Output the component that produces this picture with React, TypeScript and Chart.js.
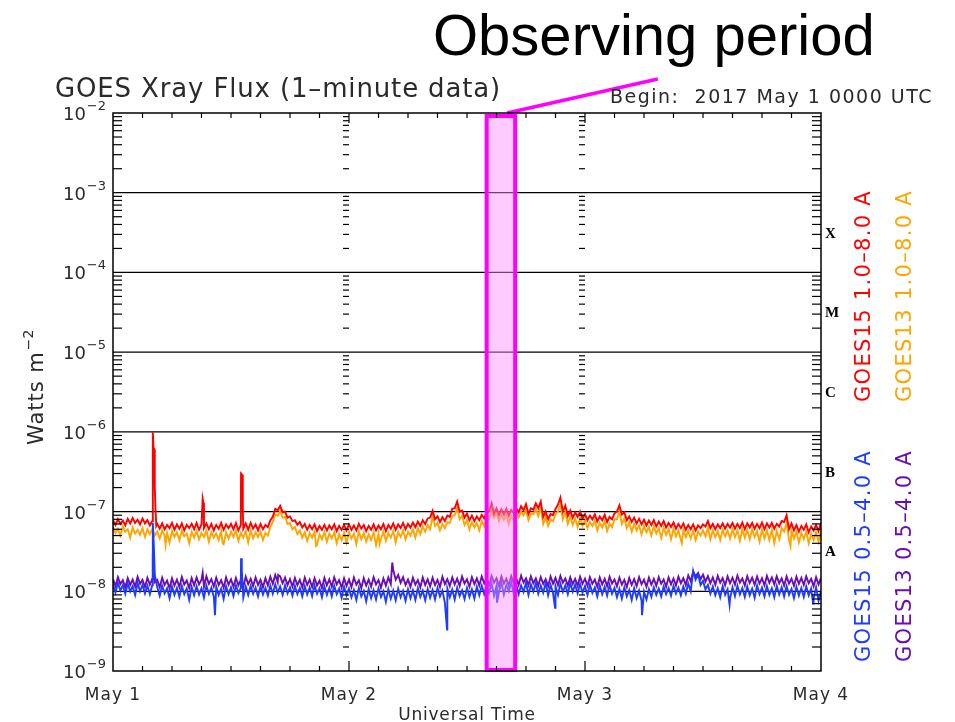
import React, { useEffect, useRef } from "react";
import { Chart, registerables } from "chart.js";

Chart.register(...registerables);

// ---------------- data ----------------
// time axis: hours since 2017 May 1 00:00 UTC.
// "hi" = upper envelope of the 1-minute noise, sampled every 30 min (h = i*0.5)
// "lo" = lower envelope, sampled every 30 min offset by 15 min (h = i*0.5 + 0.25)
const STEP_HOURS = 0.5;
const UNIT = 1e-9; // values below are in units of 1e-9 W m^-2
const DAY_LABELS = ["May 1", "May 2", "May 3", "May 4"];
const DECADE_EXPONENTS = [-2, -3, -4, -5, -6, -7, -8, -9];
const CLASS_LABELS = ["X", "M", "C", "B", "A"];
const CLASS_LOG_POSITIONS = [-3.5, -4.5, -5.5, -6.5, -7.5];
const OBSERVING_START_H = 38.0;
const OBSERVING_END_H = 40.9;

// GOES15 1.0-8.0 A (red)
const goes15LongHi = [
  78, 80, 77, 81, 83, 79, 82, 78, 76,
  70, 71, 68, 72, 69, 71, 68, 70, 72, 69, 71, 70, 68, 72, 69, 70, 72, 68, 71, 72, 69, 70, 68,
  78, 108, 118, 100, 87, 78, 74,
  70, 68, 69, 66, 68, 67, 69, 66, 68,
  69, 67, 70, 68, 66, 69, 67, 70, 68, 71, 69, 72, 70, 73, 75, 78,
  82, 102, 87, 85, 89, 108, 134, 103, 94, 89, 87, 91, 98, 127, 110, 106, 108, 105, 112, 117,
  124, 110, 127, 134, 100, 93, 108, 150, 119, 103, 98, 100,
  93, 89, 92, 87, 91, 86, 95, 120, 98, 87, 84, 81, 79, 77, 78, 75, 76, 72, 73, 70,
  71, 68, 69, 67, 69, 76, 70, 69, 71, 70, 72, 70, 73, 71, 72, 70, 73, 71, 72, 70,
  76, 90, 71, 68, 66, 69, 65, 68, 72,
];
const goes15LongLo = [
  68, 70, 67, 71, 72, 69, 71, 67, 200,
  61, 60, 62, 59, 61, 58, 62, 60, 59, 62, 60, 58, 61, 59, 62, 60, 58, 61, 59, 61, 58, 60, 64,
  86, 104, 98, 84, 76, 68, 63,
  59, 60, 57, 59, 58, 60, 57, 59, 58,
  59, 58, 61, 57, 59, 58, 60, 57, 61, 59, 62, 60, 63, 64, 66, 70,
  84, 80, 74, 76, 86, 110, 100, 84, 78, 76, 78, 82, 100, 94, 90, 92, 89, 95, 98, 104,
  93, 106, 110, 86, 80, 90, 122, 100, 88, 84, 86, 82,
  78, 80, 75, 78, 74, 80, 100, 92, 78, 74, 71, 69, 67, 68, 65, 66, 63, 64, 61, 62,
  59, 60, 58, 62, 65, 62, 60, 62, 61, 63, 61, 62, 60, 63, 61, 62, 60, 63, 61, 65,
  74, 60, 58, 56, 59, 55, 58, 57,
];
const goes15LongSpikes: [number, number][] = [
  [4.05, 990], [4.12, 640], [4.2, 600], [4.32, 110], [4.4, 66],
  [9.12, 145], [9.2, 128],
  [13.02, 300], [13.12, 290], [13.2, 110],
];

// GOES13 1.0-8.0 A (orange)
const goes13LongHi = [
  64, 61, 65, 60, 63, 59, 62, 60, 60,
  56, 58, 54, 57, 55, 58, 53, 56, 57, 54, 58, 55, 53, 57, 55, 56, 58, 54, 57, 58, 55, 56, 54,
  64, 92, 102, 86, 72, 64, 58,
  55, 54, 56, 52, 55, 53, 55, 52, 54,
  55, 53, 56, 54, 52, 55, 53, 56, 54, 57, 55, 58, 56, 60, 62, 65,
  68, 86, 72, 70, 74, 88, 112, 88, 78, 74, 72, 76, 82, 105, 95, 90, 92, 88, 96, 100,
  105, 94, 108, 114, 86, 80, 92, 125, 100, 86, 82, 84,
  78, 74, 77, 72, 76, 71, 80, 100, 82, 73, 70, 67, 66, 64, 65, 62, 63, 60, 61, 58,
  59, 57, 58, 56, 58, 63, 58, 57, 59, 58, 60, 58, 60, 59, 60, 57, 60, 58, 59, 57,
  62, 72, 58, 56, 54, 56, 53, 55, 58,
];
const goes13LongLo = [
  54, 50, 56, 47, 53, 51, 48, 52, 50,
  46, 50, 41, 48, 44, 49, 40, 47, 45, 48, 42, 47, 44, 39, 46, 48, 43, 47, 41, 46, 48, 44, 50,
  74, 88, 84, 70, 60, 52, 47,
  43, 47, 38, 45, 42, 46, 40, 44, 41,
  46, 39, 45, 42, 44, 38, 45, 43, 47, 41, 48, 45, 50, 47, 52, 56,
  60, 66, 58, 62, 72, 90, 80, 68, 60, 63, 58, 66, 80, 84, 76, 79, 70, 78, 84, 90,
  78, 92, 88, 70, 66, 76, 100, 80, 70, 68, 64, 66,
  62, 66, 58, 63, 57, 64, 80, 70, 62, 56, 58, 52, 55, 50, 53, 47, 51, 45, 49, 44,
  48, 46, 44, 50, 49, 45, 48, 44, 49, 46, 48, 43, 47, 45, 48, 42, 46, 44, 40, 45,
  56, 44, 46, 41, 45, 40, 44, 42,
];
const goes13LongDips: [number, number][] = [
  [5.35, 38], [11.15, 40], [20.65, 37], [27.1, 39], [57.85, 40], [68.9, 37],
];

// GOES15 0.5-4.0 A (blue)
const goes15ShortHi = [
  12.2, 12.8, 11.9, 12.5, 11.6, 12.7, 12.0, 11.8, 12.0,
  11.2, 11.8, 10.9, 11.5, 11.0, 11.7, 10.8, 11.4, 11.6, 10.9, 11.8, 11.1, 11.5, 10.8, 11.6, 11.2, 11.9, 11.0, 11.5, 11.7, 11.1, 11.6, 11.0,
  11.8, 12.2, 11.5, 11.9, 11.2, 11.7, 11.0,
  11.6, 11.2, 11.8, 10.9, 11.5, 11.1, 11.7, 10.8, 11.4,
  10.8, 10.4, 11.0, 10.1, 10.7, 10.3, 10.9, 10.0, 10.6, 10.2, 10.8, 10.1, 10.6, 10.3, 10.9, 10.2,
  10.7, 10.4, 11.0, 10.2, 10.8, 10.5, 11.1, 10.3, 11.0, 10.6, 11.4, 11.8, 12.2, 12.6, 11.8, 12.8, 12.0, 13.0, 12.3, 11.9,
  12.9, 12.2, 12.6, 11.8, 12.7, 12.0, 11.6, 12.5, 11.9, 12.8, 12.1, 12.4,
  11.6, 12.1, 11.2, 11.8, 11.4, 12.0, 11.0, 10.7, 11.2, 10.4, 10.9, 10.2, 9.9, 10.6, 11.2, 10.8, 11.5, 11.0, 11.7, 11.1,
  11.5, 12.5, 18.0, 16.5, 13.5, 12.0, 11.5, 10.9, 11.6, 10.6, 11.2, 11.7, 11.0, 11.5, 10.8, 11.8, 11.1, 11.6, 10.9, 11.7,
  11.2, 11.6, 10.7, 11.4, 11.0, 11.5, 10.8, 11.2, 10.2,
];
const goes15ShortLo = [
  9.6, 10.2, 9.3, 9.9, 9.0, 10.0, 9.4, 9.2, 16,
  8.8, 9.4, 8.2, 9.0, 8.5, 9.2, 7.8, 8.9, 9.1, 8.3, 9.3, 8.6, 9.0, 8.0, 9.2, 8.7, 9.5, 8.4, 9.0, 9.3, 8.6, 9.1, 8.8,
  9.3, 9.6, 9.0, 9.4, 8.8, 9.2, 8.6,
  9.1, 8.7, 9.3, 8.4, 9.0, 8.6, 9.2, 8.3, 8.9,
  8.4, 7.8, 8.6, 7.5, 8.2, 7.9, 8.5, 7.4, 8.1, 7.7, 8.4, 7.6, 8.2, 7.8, 8.5, 7.7,
  8.3, 7.9, 8.6, 7.2, 8.4, 7.9, 8.7, 8.0, 8.5, 8.1, 8.9, 9.2, 9.6, 8.8, 9.8, 9.1, 10.0, 9.4, 9.2, 9.8,
  9.0, 9.9, 9.3, 9.6, 8.9, 9.5, 9.0, 9.8, 9.2, 9.9, 9.4, 9.6,
  9.0, 9.5, 8.6, 9.2, 8.8, 9.3, 8.4, 8.1, 8.6, 7.8, 8.2, 7.6, 7.9, 8.5, 9.0, 8.6, 9.2, 8.8, 9.4, 8.9,
  9.3, 10.0, 14.0, 12.0, 10.6, 9.3, 8.9, 8.4, 9.0, 8.1, 8.7, 9.1, 8.5, 8.9, 8.3, 9.2, 8.6, 9.0, 8.4, 9.1,
  8.6, 9.0, 8.2, 8.8, 8.5, 8.9, 8.1, 7.6,
];
const goes15ShortSpikes: [number, number][] = [
  [4.05, 72], [4.15, 38],
  [10.37, 5.0],
  [13.02, 26], [13.1, 18], [13.18, 12],
  [33.97, 3.3], [39.05, 7.2], [44.95, 6.2], [53.8, 5.0], [62.7, 6.8], [71.2, 7.0],
];

// GOES13 0.5-4.0 A (purple)
const goes13ShortHi = [
  14.2, 15.0, 13.8, 14.6, 14.0, 15.2, 13.9, 14.7, 14.4,
  13.9, 14.8, 13.6, 14.5, 14.0, 15.1, 13.7, 14.6, 14.9, 14.0, 15.4, 14.2, 14.8, 13.8, 14.9, 14.1, 14.7, 14.0, 15.2, 14.3, 14.9, 13.9, 14.6,
  15.2, 16.0, 15.4, 14.8, 14.2, 14.7, 13.9,
  14.8, 14.0, 14.6, 13.6, 14.7, 14.1, 15.0, 13.8, 14.5,
  14.0, 14.9, 13.7, 14.6, 14.0, 15.0, 13.8, 14.5, 14.9, 18.5, 16.0, 15.0, 14.0, 14.8, 13.8, 14.9,
  14.1, 14.8, 13.9, 15.2, 14.2, 14.9, 14.4, 15.3, 14.1, 15.0, 14.5, 15.4, 14.7, 15.6, 14.6, 15.3, 14.4, 15.5, 14.8, 15.7,
  14.6, 15.4, 14.5, 15.1, 14.2, 15.3, 14.7, 15.6, 14.5, 15.0, 14.3, 15.2,
  14.4, 15.1, 14.0, 14.9, 14.3, 15.2, 14.1, 14.8, 13.9, 14.7, 14.2, 15.0, 14.0, 14.8, 14.3, 15.1, 14.0, 14.9, 14.4, 15.3,
  14.6, 15.8, 17.5, 17.0, 16.2, 15.5, 14.9, 15.6, 14.6, 15.4, 14.8, 15.7, 14.5, 15.5, 14.8, 15.3, 14.6, 15.6, 14.9, 15.4,
  14.5, 15.3, 14.4, 15.2, 14.7, 15.4, 14.3, 15.0, 14.6,
];
const goes13ShortLo = [
  11.6, 12.3, 11.2, 12.0, 11.4, 12.4, 11.3, 12.1, 13.0,
  11.2, 12.0, 10.9, 11.8, 11.3, 12.2, 11.0, 11.9, 12.2, 11.4, 12.4, 11.5, 12.0, 11.1, 12.1, 11.4, 11.9, 11.3, 12.3, 11.6, 12.0, 11.2, 11.8,
  12.4, 13.0, 12.6, 12.0, 11.5, 11.9, 11.2,
  12.0, 11.3, 11.8, 11.0, 11.9, 11.4, 12.2, 11.1, 11.7,
  11.3, 12.1, 11.0, 11.8, 11.4, 12.2, 11.1, 11.8, 12.3, 14.0, 12.8, 12.0, 11.4, 12.1, 11.2, 12.0,
  11.5, 12.0, 11.3, 12.3, 11.6, 12.2, 11.7, 12.5, 11.4, 12.3, 11.8, 12.6, 11.9, 12.8, 11.7, 12.5, 11.8, 12.7, 12.0, 12.9,
  11.9, 12.6, 11.7, 12.4, 11.6, 12.5, 12.0, 12.8, 11.8, 12.3, 11.7, 12.4,
  11.7, 12.4, 11.4, 12.2, 11.6, 12.5, 11.5, 12.1, 11.3, 12.0, 11.6, 12.3, 11.4, 12.1, 11.7, 12.4, 11.4, 12.2, 11.8, 12.6,
  12.0, 13.4, 15.5, 14.2, 13.2, 12.6, 12.1, 12.8, 11.9, 12.6, 12.1, 12.9, 11.8, 12.7, 12.1, 12.5, 11.9, 12.8, 12.2, 12.6,
  11.8, 12.5, 11.7, 12.4, 12.0, 12.6, 11.6, 12.2,
];
const goes13ShortSpikes: [number, number][] = [
  [4.05, 30], [4.15, 18], [9.12, 17], [13.02, 15.5], [16.8, 16], [28.4, 23],
];

// ---------------- styling ----------------
const RED = "#ff0000";
const ORANGE = "#ffa500";
const BLUE = "#1e3cff";
const PURPLE = "#6a0cb4";
const MAGENTA = "#ff00ff";
const IDL_FONT = "'DejaVu Sans', sans-serif";
const TEXT_COLOR = "#2a2a2a";

function buildSeries(hi: number[], lo: number[], extra: [number, number][]) {
  const pts = hi.map((v, i) => ({ x: i * STEP_HOURS, y: v * UNIT }));
  lo.forEach((v, i) => pts.push({ x: i * STEP_HOURS + STEP_HOURS / 2, y: v * UNIT }));
  extra.forEach(([h, v]) => pts.push({ x: h, y: v * UNIT }));
  pts.sort((a, b) => a.x - b.x);
  return pts;
}

function drawText(
  ctx: CanvasRenderingContext2D,
  s: string,
  x: number,
  y: number,
  font: string,
  color: string,
  align: CanvasTextAlign = "left",
  spacing = "0px"
) {
  ctx.font = font;
  ctx.fillStyle = color;
  ctx.textAlign = align;
  ctx.textBaseline = "alphabetic";
  (ctx as any).letterSpacing = spacing;
  ctx.fillText(s, x, y);
  (ctx as any).letterSpacing = "0px";
}

function seg(ctx: CanvasRenderingContext2D, x1: number, y1: number, x2: number, y2: number) {
  ctx.beginPath();
  ctx.moveTo(x1, y1);
  ctx.lineTo(x2, y2);
  ctx.stroke();
}

const decorPlugin = {
  id: "goesDecor",
  beforeDatasetsDraw(chart: any) {
    const { ctx, chartArea: a, scales } = chart;
    const y = scales.y;
    ctx.save();
    ctx.strokeStyle = "#000";
    ctx.lineWidth = 1.3;
    for (let e = -3; e >= -8; e--) {
      const py = y.getPixelForValue(Math.pow(10, e));
      seg(ctx, a.left, py, a.right, py);
    }
    ctx.restore();
  },
  afterDatasetsDraw(chart: any) {
    const { ctx, chartArea: a, scales } = chart;
    const x = scales.x;
    const y = scales.y;
    ctx.save();

    // observing period box
    const bx1 = x.getPixelForValue(OBSERVING_START_H);
    const bx2 = x.getPixelForValue(OBSERVING_END_H);
    ctx.fillStyle = "rgba(255,140,255,0.45)";
    ctx.fillRect(bx1, a.top + 3, bx2 - bx1, a.bottom - a.top - 4);
    ctx.strokeStyle = MAGENTA;
    ctx.lineWidth = 4;
    ctx.strokeRect(bx1, a.top + 3, bx2 - bx1, a.bottom - a.top - 4);
    // connector line to caption
    ctx.lineWidth = 3.5;
    seg(ctx, bx2 - 8, a.top, x.getPixelForValue(55.4), a.top - 34);

    // frame
    ctx.strokeStyle = "#000";
    ctx.lineWidth = 1.5;
    ctx.strokeRect(a.left, a.top, a.right - a.left, a.bottom - a.top);

    // y minor ticks
    ctx.lineWidth = 1.2;
    const days = [24, 48];
    for (let e = -9; e <= -3; e++) {
      for (let k = 2; k <= 9; k++) {
        const py = y.getPixelForValue(k * Math.pow(10, e));
        seg(ctx, a.left, py, a.left + 9, py);
        seg(ctx, a.right - 9, py, a.right, py);
        days.forEach((d) => {
          const px = x.getPixelForValue(d);
          seg(ctx, px - 6, py, px, py);
        });
      }
    }
    // x ticks every 3 hours
    for (let h = 3; h < 72; h += 3) {
      const px = x.getPixelForValue(h);
      const len = h % 24 === 0 ? 10 : 5;
      seg(ctx, px, a.bottom, px, a.bottom - len);
      seg(ctx, px, a.top, px, a.top + len);
    }

    // y tick labels 10^n
    DECADE_EXPONENTS.forEach((e) => {
      const py = y.getPixelForValue(Math.pow(10, e));
      const expStr = "\u2212" + String(-e);
      ctx.font = `13px ${IDL_FONT}`;
      const we = ctx.measureText(expStr).width;
      drawText(ctx, expStr, 106, py - 3, `13px ${IDL_FONT}`, TEXT_COLOR, "right");
      drawText(ctx, "10", 106 - we - 1, py + 7, `18px ${IDL_FONT}`, TEXT_COLOR, "right");
    });

    // x tick labels
    DAY_LABELS.forEach((lab, i) => {
      const px = x.getPixelForValue(i * 24);
      drawText(ctx, lab, px, 700, `17px ${IDL_FONT}`, TEXT_COLOR, "center", "1px");
    });
    drawText(ctx, "Universal Time", (a.left + a.right) / 2, 720, `17px ${IDL_FONT}`, TEXT_COLOR, "center", "0.8px");

    // class labels
    CLASS_LABELS.forEach((c, i) => {
      const py = y.getPixelForValue(Math.pow(10, CLASS_LOG_POSITIONS[i]));
      drawText(ctx, c, a.right + 4, py + 5, `bold 15px 'Liberation Serif', serif`, "#000", "left");
    });

    // titles
    drawText(ctx, "GOES Xray Flux (1\u2013minute data)", 55, 97, `26px ${IDL_FONT}`, TEXT_COLOR, "left", "0.85px");
    drawText(ctx, "Begin:  2017 May 1 0000 UTC", 610, 103, `19px ${IDL_FONT}`, TEXT_COLOR, "left", "1.5px");
    drawText(ctx, "Observing period", 433, 55, `58px 'Liberation Sans', Arial, sans-serif`, "#000", "left");

    // y axis title (rotated)
    ctx.save();
    ctx.translate(43, 445);
    ctx.rotate(-Math.PI / 2);
    ctx.font = `21px ${IDL_FONT}`;
    (ctx as any).letterSpacing = "1px";
    const wTitle = ctx.measureText("Watts m").width;
    drawText(ctx, "Watts m", 0, 0, `21px ${IDL_FONT}`, TEXT_COLOR, "left", "1px");
    drawText(ctx, "\u22122", wTitle + 1, -10, `14px ${IDL_FONT}`, TEXT_COLOR, "left");
    ctx.restore();

    // legend (rotated)
    const legend: [string, string, number, number][] = [
      ["GOES15 1.0\u20138.0 A", RED, 870, 296],
      ["GOES13 1.0\u20138.0 A", ORANGE, 911, 296],
      ["GOES15 0.5\u20134.0 A", BLUE, 870, 556],
      ["GOES13 0.5\u20134.0 A", PURPLE, 911, 556],
    ];
    legend.forEach(([s, col, lx, ly]) => {
      ctx.save();
      ctx.translate(lx, ly);
      ctx.rotate(-Math.PI / 2);
      drawText(ctx, s, 0, 0, `21px ${IDL_FONT}`, col, "center", "1.3px");
      ctx.restore();
    });

    ctx.restore();
  },
};

export default function App() {
  const canvasRef = useRef<HTMLCanvasElement | null>(null);

  useEffect(() => {
    document.body.style.margin = "0";
    const canvas = canvasRef.current;
    if (!canvas) return;
    const mk = (
      label: string,
      hi: number[],
      lo: number[],
      extra: [number, number][],
      color: string,
      order: number
    ) => ({
      label,
      data: buildSeries(hi, lo, extra),
      borderColor: color,
      backgroundColor: color,
      borderWidth: 1.9,
      pointRadius: 0,
      tension: 0,
      fill: false,
      order,
    });
    const chart = new Chart(canvas, {
      type: "line",
      data: {
        datasets: [
          mk("GOES15 1.0–8.0 A", goes15LongHi, goes15LongLo, goes15LongSpikes, RED, 0),
          mk("GOES15 0.5–4.0 A", goes15ShortHi, goes15ShortLo, goes15ShortSpikes, BLUE, 1),
          mk("GOES13 1.0–8.0 A", goes13LongHi, goes13LongLo, goes13LongDips, ORANGE, 2),
          mk("GOES13 0.5–4.0 A", goes13ShortHi, goes13ShortLo, goes13ShortSpikes, PURPLE, 3),
        ],
      },
      options: {
        responsive: false,
        animation: false,
        devicePixelRatio: 1,
        layout: { padding: { left: 113, right: 134, top: 113, bottom: 51 } },
        scales: {
          x: { type: "linear", min: 0, max: 72, display: false },
          y: { type: "logarithmic", min: 1e-9, max: 1e-2, display: false },
        },
        plugins: {
          legend: { display: false },
          tooltip: { enabled: false },
        },
        events: [],
      },
      plugins: [decorPlugin],
    });
    return () => chart.destroy();
  }, []);

  return (
    <div style={{ width: 955, height: 722, background: "#fff" }}>
      <canvas ref={canvasRef} width={955} height={722} style={{ display: "block" }} />
    </div>
  );
}
